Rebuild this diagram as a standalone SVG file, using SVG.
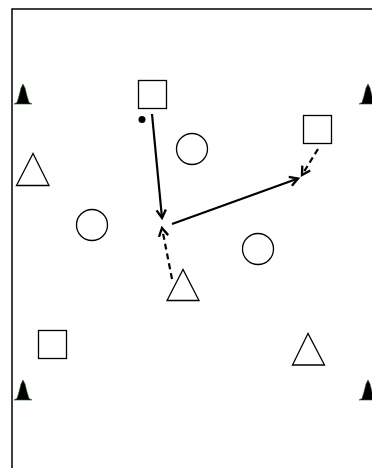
<svg xmlns="http://www.w3.org/2000/svg" width="372" height="468" viewBox="0 0 372 468">
<style>
.shape{fill:#fff;stroke:#000;stroke-width:1.3}
.cone{fill:#000;stroke:#2a5a2a;stroke-width:0.6}
.line{fill:none;stroke:#000;stroke-width:2.2}
.dash{fill:none;stroke:#000;stroke-width:2.2;stroke-dasharray:6,4}
</style>
<defs>
<marker id="ah" markerUnits="userSpaceOnUse" markerWidth="14" markerHeight="14" refX="10" refY="5" orient="auto" viewBox="0 0 12 10">
<path d="M3,1 L10,5 L3,9" fill="none" stroke="#000" stroke-width="2"/>
</marker>
<path id="conep" d="M-9,10 L-6,8.5 L-4,2 L-2,-6 L0,-10 L2,-6 L4,2 L6,8.5 L9,10 Z"/>
</defs>
<rect x="0" y="0" width="372" height="468" fill="#fff"/>
<g id="field"><path d="M12,468 L12,9 L372,9" fill="none" stroke="#000" stroke-width="1.5"/></g>
<g id="cone1"><use href="#conep" class="cone" x="23" y="94"/></g>
<g id="cone2"><use href="#conep" class="cone" x="368" y="94"/></g>
<g id="cone3"><use href="#conep" class="cone" x="23" y="390"/></g>
<g id="cone4"><use href="#conep" class="cone" x="368" y="390"/></g>
<g id="square1"><rect class="shape" x="138.5" y="80.5" width="28" height="28"/></g>
<g id="square2"><rect class="shape" x="303.5" y="115.5" width="28" height="28"/></g>
<g id="square3"><rect class="shape" x="38.5" y="330.5" width="28" height="28"/></g>
<g id="circle1"><circle class="shape" cx="192" cy="149" r="15.5"/></g>
<g id="circle2"><circle class="shape" cx="92" cy="225" r="15.5"/></g>
<g id="circle3"><circle class="shape" cx="258" cy="249" r="15.5"/></g>
<g id="triangle1"><polygon class="shape" points="33,153.5 16.5,185.5 49,185.5"/></g>
<g id="triangle2"><polygon class="shape" points="183,269.5 167,300.5 199,300.5"/></g>
<g id="triangle3"><polygon class="shape" points="308,333.5 292.5,365 324.5,365"/></g>
<g id="ball"><circle cx="142" cy="119.5" r="3.5" fill="#000"/></g>
<g id="connectors">
<line class="line" x1="152" y1="114" x2="162" y2="218" marker-end="url(#ah)"/>
<line class="line" x1="172" y1="224" x2="298" y2="178.5" marker-end="url(#ah)"/>
<line class="dash" x1="318" y1="149" x2="302" y2="175" marker-end="url(#ah)"/>
<line class="dash" x1="172" y1="279" x2="162" y2="228" marker-end="url(#ah)"/>
</g>
</svg>
